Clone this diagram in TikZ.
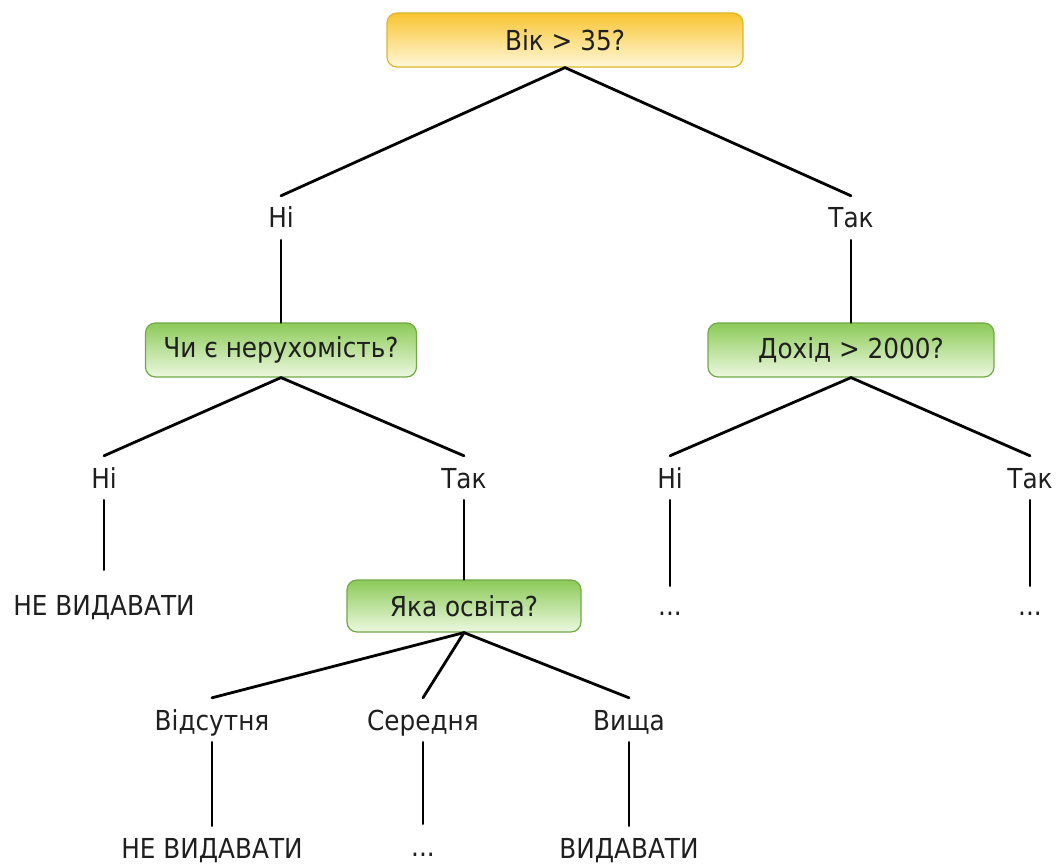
\documentclass[tikz,border=0pt]{standalone}
\usepackage{fontspec}
\setmainfont{DejaVu Sans Condensed}
\begin{document}
\begin{tikzpicture}[x=1pt,y=-1pt,
  every node/.style={font=\fontsize{27.5}{30}\selectfont, text=black!88},
  conn/.style={line width=2.8pt, black, line cap=round},
  ybox/.style={draw=yellow!60!orange!85!black!95, line width=1.2pt, rounded corners=10pt,
     top color={rgb,255:red,248;green,196;blue,48}, bottom color={rgb,255:red,255;green,248;blue,218},
     minimum height=54pt, inner sep=0pt},
  gbox/.style={draw={rgb,255:red,112;green,170;blue,70}, line width=1.2pt, rounded corners=10pt,
     top color={rgb,255:red,140;green,202;blue,88}, bottom color={rgb,255:red,236;green,248;blue,224},
     minimum height=54pt, inner sep=0pt},
  lab/.style={inner xsep=2pt, inner ysep=12pt, text height=20pt, text depth=0pt}
]
\useasboundingbox (0,0) rectangle (1063,866);

\node[ybox, minimum width=356pt] (root) at (565,40) {Вік > 35?};
\node[lab] (n1) at (281,218) {Ні};
\node[lab] (y1) at (851,218) {Так};
\node[gbox, minimum width=271pt] (b1) at (281,350) {Чи є нерухомість?};
\node[gbox, minimum width=286pt] (b2) at (851,350) {Дохід > 2000?};

\node[lab] (n2) at (104,478) {Ні};
\node[lab] (y2) at (464,478) {Так};
\node[lab] (n3) at (670,478) {Ні};
\node[lab] (y3) at (1030,478) {Так};

\node[lab] (t1) at (104,605) {НЕ ВИДАВАТИ};
\node[gbox, minimum width=234pt, minimum height=52pt] (b3) at (464,606) {Яка освіта?};
\node[lab] (t2) at (670,605) {...};
\node[lab] (t3) at (1030,605) {...};

\node[lab] (e1) at (212,720) {Відсутня};
\node[lab] (e2) at (423,720) {Середня};
\node[lab] (e3) at (629,720) {Вища};

\node[lab] (f1) at (212,848) {НЕ ВИДАВАТИ};
\node[lab] (f2) at (423,846) {...};
\node[lab] (f3) at (629,848) {ВИДАВАТИ};

\draw[conn] (root.south) -- (n1.north);
\draw[conn] (root.south) -- (y1.north);
\draw[conn] (n1.south) -- (b1.north);
\draw[conn] (y1.south) -- (b2.north);

\draw[conn] (b1.south) -- (n2.north);
\draw[conn] (b1.south) -- (y2.north);
\draw[conn] (b2.south) -- (n3.north);
\draw[conn] (b2.south) -- (y3.north);

\draw[conn, shorten >=13pt] (n2.south) -- (t1.north);
\draw[conn] (y2.south) -- (b3.north);
\draw[conn, shorten >=-3pt] (n3.south) -- (t2.north);
\draw[conn, shorten >=-3pt] (y3.south) -- (t3.north);

\draw[conn] (b3.south) -- (e1.north);
\draw[conn] (b3.south) -- (e2.north);
\draw[conn] (b3.south) -- (e3.north);

\draw[conn] (e1.south) -- (f1.north);
\draw[conn] (e2.south) -- (f2.north);
\draw[conn] (e3.south) -- (f3.north);
\end{tikzpicture}
\end{document}
